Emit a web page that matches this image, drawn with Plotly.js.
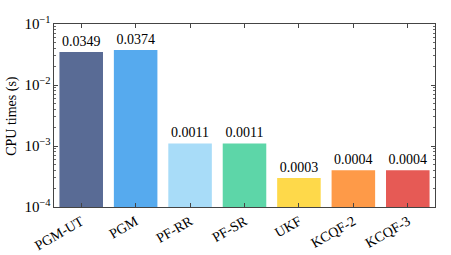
<!DOCTYPE html>
<html><head><meta charset="utf-8">
<script src="https://cdn.plot.ly/plotly-3.0.1.min.js"></script>
<style>html,body{margin:0;padding:0;background:#fff}</style>
</head><body>
<div id="chart" style="width:451px;height:255px"></div>
<script>
const categories = ["PGM-UT","PGM","PF-RR","PF-SR","UKF","KCQF-2","KCQF-3"];
const cpuTimes = [0.0349,0.0374,0.0011,0.0011,0.0003,0.0004,0.0004];
const labels = ["0.0349","0.0374","0.0011","0.0011","0.0003","0.0004","0.0004"];
const colors = ["#596b95","#56aaee","#a8dcf8","#5dd6a8","#fed94a","#fe9a48","#e65a55"];
const yTitle = "CPU times (s)";
const serif = "Liberation Serif";

Plotly.newPlot("chart",[{
  type:"bar", x:categories, y:cpuTimes, text:labels, textposition:"outside",
  texttemplate:"%{text}", cliponaxis:false, constraintext:"none",
  marker:{color:colors, line:{width:0}},
  textfont:{family:serif, size:14, color:"#000"},
  hoverinfo:"none"
}],{
  width:451, height:255,
  margin:{l:54,r:16,t:24,b:48},
  paper_bgcolor:"#fff", plot_bgcolor:"#fff",
  bargap:0.2, showlegend:false,
  font:{family:serif, size:14, color:"#000"},
  xaxis:{showline:true, linecolor:"#444", linewidth:1, mirror:"ticks",
    ticks:"inside", ticklen:4, tickcolor:"#444", tickangle:-30,
    tickfont:{family:serif, size:14}, showgrid:false, zeroline:false},
  yaxis:{type:"log", range:[-4,-1], dtick:1, exponentformat:"power",
    showline:true, linecolor:"#444", linewidth:1, mirror:"ticks",
    ticks:"inside", ticklen:4, tickcolor:"#444", showgrid:false, zeroline:false,
    minor:{ticks:"inside", ticklen:2, tickcolor:"#666", showgrid:false},
    tickfont:{family:serif, size:12}},
  annotations:[{text:yTitle, xref:"paper", yref:"paper", x:-0.112, y:0.5,
    xanchor:"center", yanchor:"middle", textangle:-90, showarrow:false,
    font:{family:serif, size:14, color:"#000"}}]
},{displayModeBar:false, staticPlot:true});
</script>
</body></html>
